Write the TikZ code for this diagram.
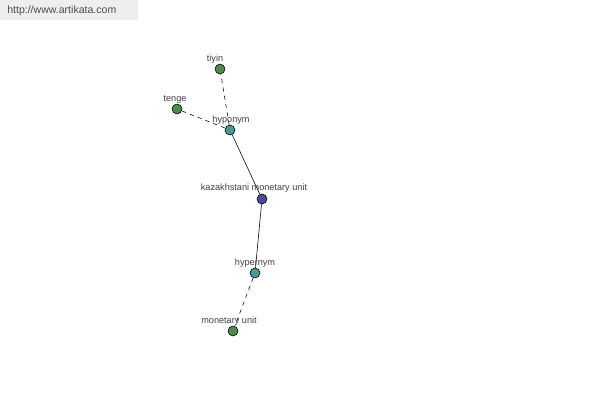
\documentclass[tikz,border=0pt]{standalone}
\usepackage{fontspec}
\setmainfont{Liberation Sans}
\definecolor{leafgreen}{HTML}{4E8A4A}
\definecolor{relteal}{HTML}{4C9696}
\definecolor{rootblue}{HTML}{4A4A9C}
\definecolor{bannergrey}{HTML}{EEEEEE}
\begin{document}
\begin{tikzpicture}[x=0.025cm,y=-0.025cm,
    dot/.style={circle,draw=black,line width=0.4pt,inner sep=0pt,minimum size=0.25cm},
    lbl/.style={font=\fontsize{6.5}{7}\selectfont,text=black!75,inner sep=0pt},
    link/.style={dash pattern=on 3pt off 3pt}]
    \useasboundingbox[fill=white] (0,0) rectangle (600,400);
    %% banner
    \fill[bannergrey] (0,0) rectangle (138,20);
    \node[anchor=west,inner sep=0pt,font=\fontsize{7.5}{8}\selectfont,text=black!70] (site) at (7,11) {http://www.artikata.com};
    %% nodes
    \node[dot,fill=rootblue] (kmu) at (262,199) {};
    \node[dot,fill=relteal] (hypo) at (230,130) {};
    \node[dot,fill=relteal] (hyper) at (255,273) {};
    \node[dot,fill=leafgreen] (tiyin) at (220,69) {};
    \node[dot,fill=leafgreen] (tenge) at (177,109) {};
    \node[dot,fill=leafgreen] (mu) at (233,331) {};
    %% edges
    \draw (kmu) -- (hypo);
    \draw (kmu) -- (hyper);
    \draw[link] (hypo) -- (tiyin);
    \draw[link] (hypo) -- (tenge);
    \draw[link] (hyper) -- (mu);
    %% labels
    \node[lbl] (kmulbl) at (254,188) {kazakhstani monetary unit};
    \node[lbl] (hypolbl) at (231,120) {hyponym};
    \node[lbl] (hyperlbl) at (255,263) {hypernym};
    \node[lbl] (tiyinlbl) at (215,59) {tiyin};
    \node[lbl] (tengelbl) at (175,99) {tenge};
    \node[lbl] (mulbl) at (229,321) {monetary unit};
\end{tikzpicture}
\end{document}
